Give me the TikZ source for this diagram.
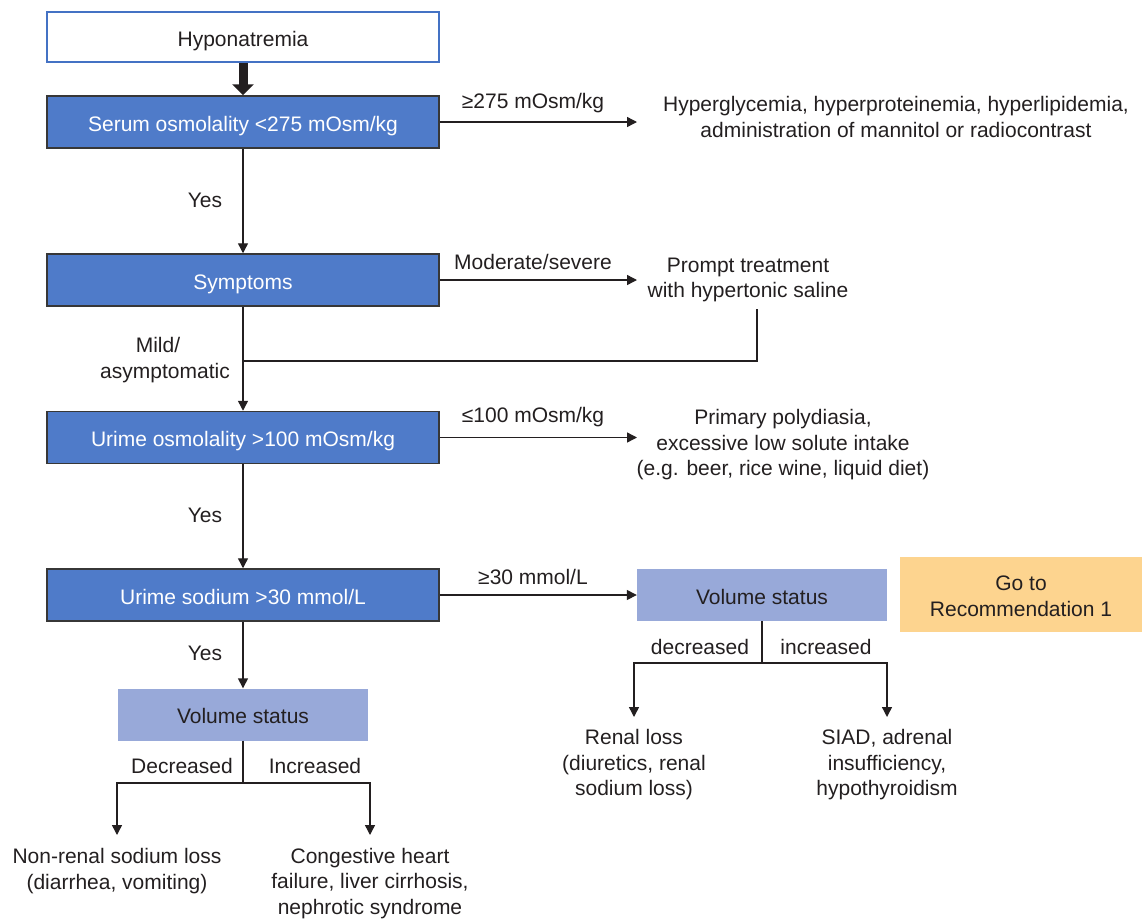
\documentclass[tikz,border=0pt]{standalone}
\usepackage{fontspec}
\setmainfont{Liberation Sans}
\usetikzlibrary{arrows.meta}
\definecolor{ink}{RGB}{35,31,32}
\definecolor{edgegray}{RGB}{55,55,55}
\definecolor{boxblue}{RGB}{79,123,201}
\definecolor{hypoblue}{RGB}{68,114,196}
\definecolor{volfill}{RGB}{152,169,217}
\definecolor{orangefill}{RGB}{253,212,143}
\begin{document}
\begin{tikzpicture}[x=1pt,y=-1pt,
  every node/.style={font=\fontsize{21}{25.5}\selectfont, text=ink},
  onel/.style={text height=18pt, text depth=0pt},
  hypobox/.style={onel, draw=hypoblue, line width=2pt, fill=white, minimum width=392pt, minimum height=50pt, inner sep=0pt},
  bluebox/.style={onel, draw=edgegray, line width=1.5pt, fill=boxblue, minimum width=392pt, minimum height=52pt, text=white, inner sep=0pt},
  volbox/.style={onel, fill=volfill, minimum width=250pt, minimum height=52pt, inner sep=0pt},
  gobox/.style={fill=orangefill, minimum width=242pt, minimum height=75pt, inner sep=0pt},
  plain/.style={align=center, inner sep=0pt},
  conn/.style={draw=ink, line width=1.4pt},
  arr/.style={conn, -{Triangle[length=10pt,width=10pt]}},
]
\useasboundingbox (0,0) rectangle (1142,918);

% boxes
\node[hypobox] (hypo) at (243,37) {Hyponatremia};
\node[bluebox] (serum) at (243,122) {Serum osmolality <275 mOsm/kg};
\node[bluebox] (symp) at (243,280) {Symptoms};
\node[bluebox] (uosm) at (243,437.5) {Urime osmolality >100 mOsm/kg};
\node[bluebox] (una) at (243,595) {Urime sodium >30 mmol/L};
\node[volbox] (volL) at (243,714.5) {Volume status};
\node[volbox] (volR) at (762,595) {Volume status};
\node[gobox] (goto) at (1021,594.5) {\raisebox{-4pt}[\height][\depth]{\begin{tabular}{@{}c@{}}Go to\\Recommendation 1\end{tabular}}};

% outcome texts
\node[plain] (hyper) at (896,117) {Hyperglycemia, hyperproteinemia, hyperlipidemia,\\administration of mannitol or radiocontrast};
\node[plain] (prompt) at (748,280) {Prompt treatment\\with hypertonic saline};
\node[plain] (poly) at (783,445) {Primary polydiasia,\\excessive low solute intake\\(e.g. beer, rice wine, liquid diet)};
\node[plain] (renal) at (634,765) {Renal loss\\(diuretics, renal\\sodium loss)};
\node[plain] (siad) at (887,765) {SIAD, adrenal\\insufficiency,\\hypothyroidism};
\node[plain] (nonren) at (117,871) {Non-renal sodium loss\\(diarrhea, vomiting)};
\node[plain] (chf) at (370,883.5) {Congestive heart\\failure, liver cirrhosis,\\nephrotic syndrome};

% edge labels
\node[plain] (l1) at (533,103) {≥275 mOsm/kg};
\node[plain] (l2) at (533,262) {Moderate/severe};
\node[plain] (l3) at (533,417) {≤100 mOsm/kg};
\node[plain] (l4) at (533,577) {≥30 mmol/L};
\node[plain] (y1) at (205,200) {Yes};
\node[plain] (y2) at (205,515) {Yes};
\node[plain] (y3) at (205,653) {Yes};
\node[plain] (mild) at (165,360) {Mild/\hspace*{14pt}\\asymptomatic};
\node[plain] (dR) at (700,647) {decreased};
\node[plain] (iR) at (826,647) {increased};
\node[plain] (dL) at (182,766) {Decreased};
\node[plain] (iL) at (315,766) {Increased};

% coordinates for free ends
\coordinate (t1) at (637,122);
\coordinate (t2) at (637,280);
\coordinate (t3) at (637,437.5);
\coordinate (m1) at (243,361);
\coordinate (jR) at (762,663);
\coordinate (tR1) at (634,717);
\coordinate (tR2) at (887,717);
\coordinate (jL) at (243,783);
\coordinate (tL1) at (117,835);
\coordinate (tL2) at (370,835);

% connectors
\draw[draw=ink, line width=9pt, -{Triangle[length=11pt,width=21pt]}] (hypo.south) -- (serum.north);
\draw[arr] (serum.east) -- (t1);
\draw[arr] (serum.south) -- (symp.north);
\draw[arr] (symp.east) -- (t2);
\draw[conn] ([xshift=9pt,yshift=-7pt]prompt.south) |- (m1);
\draw[arr] (symp.south) -- (uosm.north);
\draw[arr] (uosm.east) -- (t3);
\draw[arr] (uosm.south) -- (una.north);
\draw[arr] (una.east) -- (volR.west);
\draw[arr] (una.south) -- (volL.north);
\draw[conn] (volR.south) -- (jR);
\draw[arr] (jR) -| (tR1);
\draw[arr] (jR) -| (tR2);
\draw[conn] (volL.south) -- (jL);
\draw[arr] (jL) -| (tL1);
\draw[arr] (jL) -| (tL2);
\end{tikzpicture}
\end{document}
